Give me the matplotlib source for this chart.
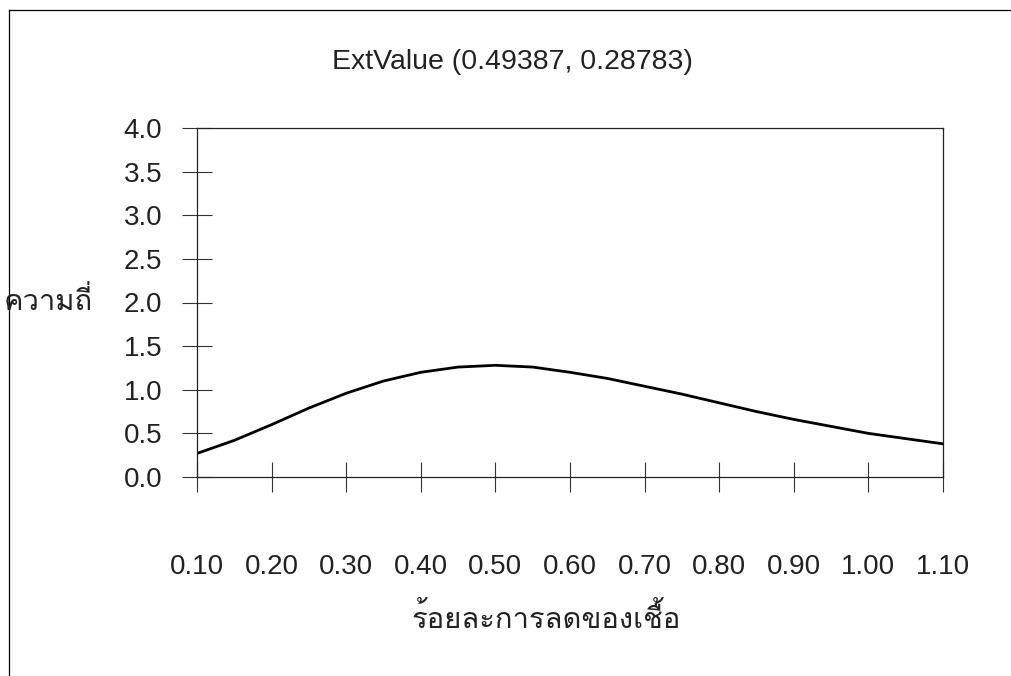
import matplotlib
matplotlib.use("Agg")
import matplotlib.pyplot as plt
from matplotlib.lines import Line2D

# values
x_vals = [0.10, 0.15, 0.20, 0.25, 0.30, 0.35, 0.40, 0.45, 0.50, 0.55, 0.60,
          0.65, 0.70, 0.75, 0.80, 0.85, 0.90, 0.95, 1.00, 1.05, 1.10]
density = [0.27, 0.42, 0.60, 0.79, 0.96, 1.10, 1.20, 1.26, 1.28, 1.26, 1.20,
           1.13, 1.04, 0.95, 0.85, 0.75, 0.66, 0.58, 0.50, 0.44, 0.38]
x_ticks = [0.10, 0.20, 0.30, 0.40, 0.50, 0.60, 0.70, 0.80, 0.90, 1.00, 1.10]
y_ticks = [0.0, 0.5, 1.0, 1.5, 2.0, 2.5, 3.0, 3.5, 4.0]

title = "ExtValue (0.49387, 0.28783)"
xlabel = "ร้อยละการลดของเชื้อ"
ylabel = "ความถี่"

W, H = 1012, 676
fig = plt.figure(figsize=(W / 100, H / 100), dpi=100)
ax = fig.add_axes([197 / W, 1 - 477 / H, (943 - 197) / W, (477 - 128) / H])

ax.plot(x_vals, density, color="black", lw=2.0)
ax.set_xlim(0.10, 1.10)
ax.set_ylim(0.0, 4.0)

ax.set_xticks(x_ticks)
ax.set_xticklabels([f"{v:.2f}" for v in x_ticks])
ax.set_yticks(y_ticks)
ax.set_yticklabels([f"{v:.1f}" for v in y_ticks])

for lab in ax.get_xticklabels() + ax.get_yticklabels():
    lab.set_family("Liberation Sans")
    lab.set_fontsize(20)
    lab.set_color("#222222")

ax.tick_params(axis="x", direction="inout", length=21.6, width=0.8, pad=45, color="#333333")
ax.tick_params(axis="y", direction="inout", length=20.9, width=0.8, pad=14.5, color="#333333")
for sp in ax.spines.values():
    sp.set_linewidth(0.9)
    sp.set_color("#222222")

fig.text(512 / W, 1 - 62 / H, title, ha="center", va="center",
         fontsize=20.5, family="Liberation Sans", color="#222222")
fig.text(546 / W, 1 - 619 / H, xlabel, ha="center", va="center",
         fontsize=21, family=["Loma", "DejaVu Sans"], color="#222222")
fig.text(4 / W, 1 - 302 / H, ylabel, ha="left", va="center",
         fontsize=21, family=["Loma", "DejaVu Sans"], color="#222222")

# page frame lines (left and top)
fig.add_artist(Line2D([9.5 / W, 9.5 / W], [0, 1 - 10 / H], transform=fig.transFigure,
                      color="black", lw=0.9))
fig.add_artist(Line2D([9.5 / W, 1], [1 - 10 / H, 1 - 10 / H], transform=fig.transFigure,
                      color="black", lw=0.9))

fig.savefig("out.png", dpi=100)
